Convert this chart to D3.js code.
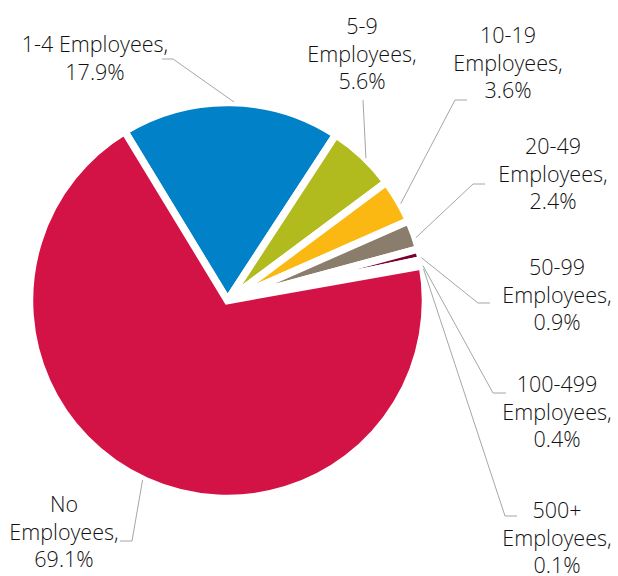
<!DOCTYPE html>
<html>
<head>
<meta charset="utf-8">
<script src="https://cdn.jsdelivr.net/npm/d3@7"></script>
<style>
  html, body { margin: 0; padding: 0; background: #fff; }
  svg { display: block; }
</style>
</head>
<body>
<svg id="chart" width="618" height="576"></svg>
<script>
// ---- data ----
const categories = ["1-4 Employees", "5-9 Employees", "10-19 Employees", "20-49 Employees",
                    "50-99 Employees", "100-499 Employees", "500+ Employees", "No Employees"];
const values = [17.9, 5.6, 3.6, 2.4, 0.9, 0.4, 0.1, 69.1];
const colors = ["#0081C8", "#B2BB1E", "#FBB813", "#8B7D6B", "#7A0030", "#4B2E83", "#333333", "#D31245"];
const labelLines = [
  ["1-4 Employees,", "17.9%"],
  ["5-9", "Employees,", "5.6%"],
  ["10-19", "Employees,", "3.6%"],
  ["20-49", "Employees,", "2.4%"],
  ["50-99", "Employees,", "0.9%"],
  ["100-499", "Employees,", "0.4%"],
  ["500+", "Employees,", "0.1%"],
  ["No", "Employees,", "69.1%"]
];
// label layout: text centre x, first baseline y
const labelPos = [[95, 52], [362, 34], [508, 43], [553, 154], [557, 275], [557, 392], [557, 518], [64, 512]];
// leader lines: text end point and elbow point
const leaderPts = [
  [[162, 59], [173, 59]],
  [[363, 100], [363, 100]],
  [[467, 100], [455, 100]],
  [[485, 184], [473, 184]],
  [[490, 303], [478, 303]],
  [[506, 393], [493, 393]],
  [[517, 516], [505, 516]],
  [[120, 541], [132, 541]]
];

const svg = d3.select("#chart");
const cx = 227.5, cy = 300.5, R = 198;
const deg = Math.PI / 180;
const start = -31.3 * deg;

const pie = d3.pie().sort(null).value(d => d).startAngle(start).endAngle(start + 2 * Math.PI);
const arcs = pie(values);
const arc = d3.arc().innerRadius(0).outerRadius(R);

const g = svg.append("g").attr("transform", `translate(${cx},${cy})`);
g.selectAll("path.slice").data(arcs).join("path")
  .attr("class", "slice")
  .attr("d", arc)
  .attr("fill", (d, i) => colors[i])
  .attr("stroke", "#fff")
  .attr("stroke-width", 7.5)
  .attr("stroke-linejoin", "miter");

// leader lines
const line = d3.line();
arcs.forEach((a, i) => {
  const ang = (a.startAngle + a.endAngle) / 2 + 1 * deg;
  const p = [cx + (R + 0.5) * Math.sin(ang), cy - (R + 0.5) * Math.cos(ang)];
  svg.append("path")
    .attr("d", line([leaderPts[i][0], leaderPts[i][1], p]))
    .attr("fill", "none")
    .attr("stroke", "#A6A6A6")
    .attr("stroke-width", 1);
});

// labels
const lh = 27.5;
labelLines.forEach((lines, i) => {
  const t = svg.append("text")
    .attr("x", labelPos[i][0])
    .attr("y", labelPos[i][1])
    .attr("text-anchor", "middle")
    .attr("font-family", "'Open Sans', sans-serif")
    .attr("font-weight", 350)
    .attr("font-size", 21.5)
    .attr("fill", "#111");
  lines.forEach((s, j) => {
    t.append("tspan").attr("x", labelPos[i][0]).attr("y", labelPos[i][1] + j * lh).text(s);
  });
});
</script>
</body>
</html>
